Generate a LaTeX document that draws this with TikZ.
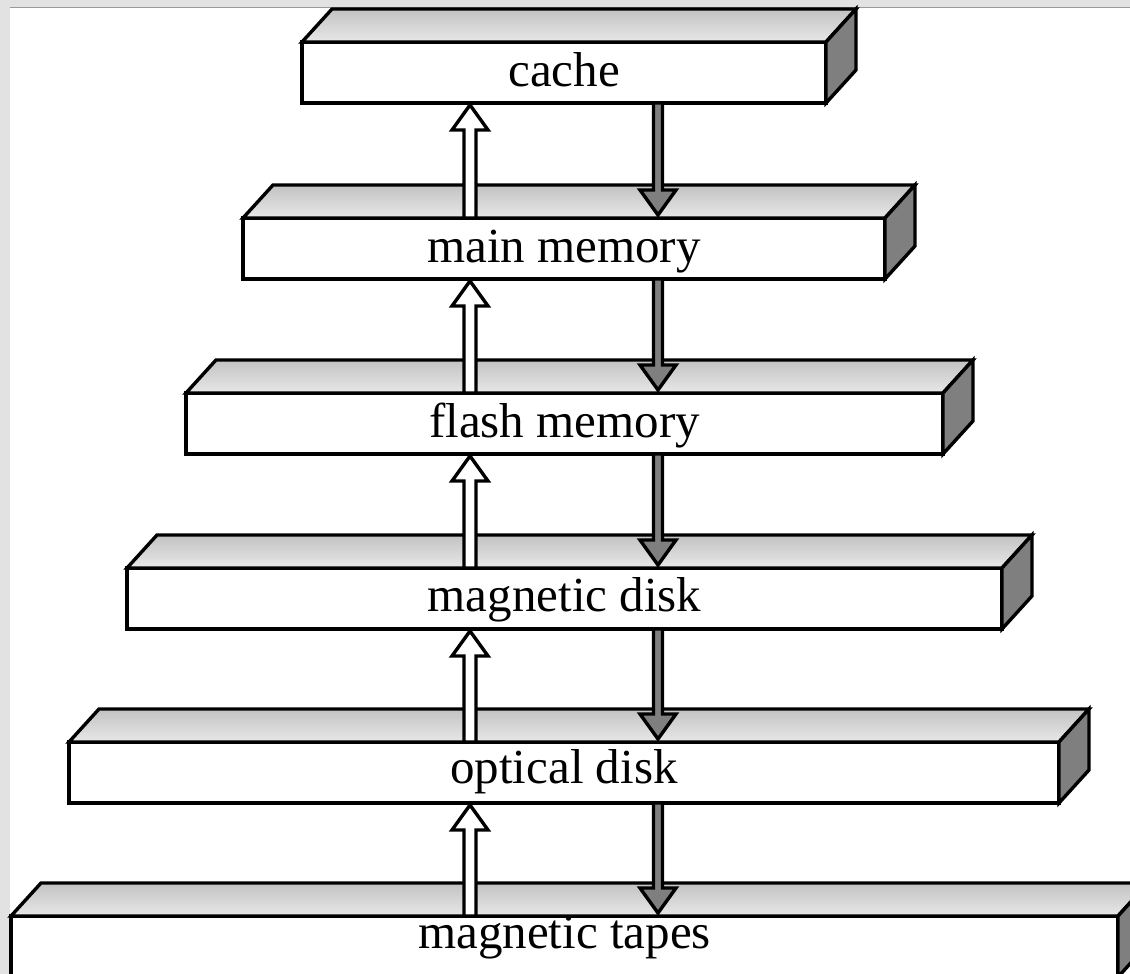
\documentclass[tikz,border=0pt]{standalone}
\usepackage{fontspec}
\setmainfont{Liberation Serif}
\usetikzlibrary{calc}
\definecolor{topdark}{HTML}{C2C2C2}
\definecolor{toplight}{HTML}{E8E8E8}
\definecolor{sidegray}{HTML}{7F7F7F}
\definecolor{framegray}{HTML}{E2E2E2}
\definecolor{frameline}{HTML}{9A9A9A}
\tikzset{
  front/.style={draw, line width=3.4pt, fill=white, anchor=north west, inner sep=0pt, outer sep=0pt,
    font=\fontsize{49}{53}\selectfont},
  topface/.style={draw, line width=3.4pt, top color=topdark, bottom color=toplight},
  sideface/.style={draw, line width=3.4pt, fill=sidegray},
  upshape/.style={draw, line width=3.4pt, fill=white},
  downshape/.style={draw, line width=3.4pt, fill=sidegray},
}
% name, x0, y0, width, baseline distance from bottom, text
\newcommand\stackLayer[6]{%
  \node[front, minimum width=#4pt, text height=61pt-#5pt, text depth=#5pt] (#1) at (#2,#3) {#6};
  \draw[topface] (#1.north west) -- ++(30,-33) -- ($(#1.north east)+(30,-33)$) -- (#1.north east) -- cycle;
  \draw[sideface] (#1.north east) -- ++(30,-33) -- ($(#1.south east)+(30,-33)$) -- (#1.south east) -- cycle;
}
% upper, lower
\newcommand\stackArrows[2]{%
  \coordinate (#1-#2-ua) at (upx |- #2.north);
  \coordinate (#1-#2-ub) at ($(upx |- #1.south)+(0,2)$);
  \draw[upshape] ($(#1-#2-ua)+(-6,0)$) -- ($(#1-#2-ub)+(-6,25)$) -- ($(#1-#2-ub)+(-18,25)$) -- (#1-#2-ub)
     -- ($(#1-#2-ub)+(18,25)$) -- ($(#1-#2-ub)+(6,25)$) -- ($(#1-#2-ua)+(6,0)$) -- cycle;
  \coordinate (#1-#2-da) at (dnx |- #1.south);
  \coordinate (#1-#2-db) at ($(dnx |- #2.north)+(0,-3)$);
  \draw[downshape] ($(#1-#2-da)+(-4.5,0)$) -- ($(#1-#2-db)+(-4.5,-25)$) -- ($(#1-#2-db)+(-18,-25)$) -- (#1-#2-db)
     -- ($(#1-#2-db)+(18,-25)$) -- ($(#1-#2-db)+(4.5,-25)$) -- ($(#1-#2-da)+(4.5,0)$) -- cycle;
}
\begin{document}
\begin{tikzpicture}[x=1pt,y=-1pt]
\useasboundingbox (0,0) rectangle (1130,974);
\clip (0,0) rectangle (1130,974);
\fill[white] (0,0) rectangle (1130,974);
\fill[framegray] (0,0) rectangle (10,974);
\fill[framegray] (0,0) rectangle (1130,8);
\draw[frameline, line width=1pt] (10,8) -- (1130,8);
\coordinate (upx) at (470,0);
\coordinate (dnx) at (658,0);
\stackLayer{cache}{302}{42}{524}{16}{cache}
\stackLayer{main}{243}{218}{642}{17}{main memory}
\stackLayer{flash}{186}{393}{757}{17}{flash memory}
\stackLayer{disk}{127}{568}{875}{18}{magnetic disk}
\stackLayer{optical}{69}{742}{990}{20}{optical disk}
\stackLayer{tapes}{11}{916}{1107}{29}{magnetic tapes}
\stackArrows{cache}{main}
\stackArrows{main}{flash}
\stackArrows{flash}{disk}
\stackArrows{disk}{optical}
\stackArrows{optical}{tapes}
\end{tikzpicture}
\end{document}
